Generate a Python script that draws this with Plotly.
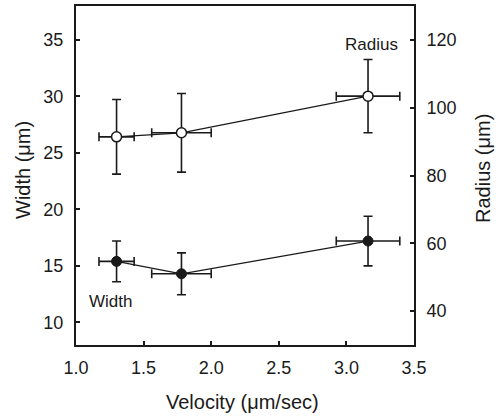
import plotly.graph_objects as go

velocity = [1.30, 1.78, 3.16]
velocity_err = [0.13, 0.22, 0.235]
width = [15.4, 14.3, 17.2]
width_err = [1.8, 1.85, 2.2]
radius = [91.4, 92.6, 103.4]
radius_err = [11.0, 11.6, 10.8]

FONT = "Liberation Sans, Arial, sans-serif"
INK = "#1a1a1a"

W, H = 499, 416
ML, MR, MT, MB = 76, 85, 6, 71
PW, PH = W - ML - MR, H - MT - MB


def px_to_paper(px, py):
    return (px - ML) / PW, (H - MB - py) / PH


fig = go.Figure()
fig.add_trace(go.Scatter(
    x=velocity, y=radius, yaxis="y2", mode="lines+markers", name="Radius",
    line=dict(color=INK, width=1.2),
    marker=dict(symbol="circle", size=10, color="white", line=dict(color=INK, width=1.5)),
    error_y=dict(type="data", array=radius_err, color=INK, thickness=1.6, width=4.5),
    error_x=dict(type="data", array=velocity_err, color=INK, thickness=1.6, width=4.5),
    showlegend=False,
))
fig.add_trace(go.Scatter(
    x=velocity, y=width, mode="lines+markers", name="Width",
    line=dict(color=INK, width=1.2),
    marker=dict(symbol="circle", size=10, color=INK, line=dict(color=INK, width=1)),
    error_y=dict(type="data", array=width_err, color=INK, thickness=1.6, width=4.5),
    error_x=dict(type="data", array=velocity_err, color=INK, thickness=1.6, width=4.5),
    showlegend=False,
))

fig.add_annotation(x=1.254, y=11.85, xref="x", yref="y", text="Width", showarrow=False,
                   font=dict(family=FONT, size=17, color=INK))
fig.add_annotation(x=3.187, y=118.5, xref="x", yref="y2", text="Radius", showarrow=False,
                   font=dict(family=FONT, size=17, color=INK))

tf = dict(family=FONT, size=20, color=INK)
x0, y0 = px_to_paper(23, 170)
fig.add_annotation(x=x0, y=y0, xref="paper", yref="paper", text="Width (μm)", textangle=-90,
                   xanchor="center", yanchor="middle", showarrow=False, font=tf)
x0, y0 = px_to_paper(483, 169)
fig.add_annotation(x=x0, y=y0, xref="paper", yref="paper", text="Radius (μm)", textangle=-90,
                   xanchor="center", yanchor="middle", showarrow=False, font=tf)
x0, y0 = px_to_paper(242, 402)
fig.add_annotation(x=x0, y=y0, xref="paper", yref="paper", text="Velocity (μm/sec)",
                   xanchor="center", yanchor="middle", showarrow=False, font=tf)

axis_common = dict(showline=True, linecolor=INK, linewidth=2, showgrid=False, zeroline=False,
                   tickcolor=INK, ticklen=4, tickwidth=1.5, automargin=False, ticks="inside",
                   tickfont=dict(family=FONT, size=18, color=INK))

fig.update_layout(
    width=W, height=H,
    margin=dict(l=ML, r=MR, t=MT, b=MB),
    paper_bgcolor="white", plot_bgcolor="white",
    xaxis=dict(range=[1.0, 3.5], tickvals=[1.0, 1.5, 2.0, 2.5, 3.0, 3.5],
               ticktext=["1.0", "1.5", "2.0", "2.5", "3.0", "3.5"],
               mirror=True, ticklabelstandoff=5, **axis_common),
    yaxis=dict(range=[8, 38], tickvals=[10, 15, 20, 25, 30, 35],
               ticklabelstandoff=7, **axis_common),
    yaxis2=dict(range=[30, 130], tickvals=[40, 60, 80, 100, 120],
                overlaying="y", side="right", ticklabelstandoff=7, **axis_common),
)

fig.write_html("out.html", config={"displayModeBar": False},
               post_script="document.body.style.margin='0';document.body.style.padding='0';")
